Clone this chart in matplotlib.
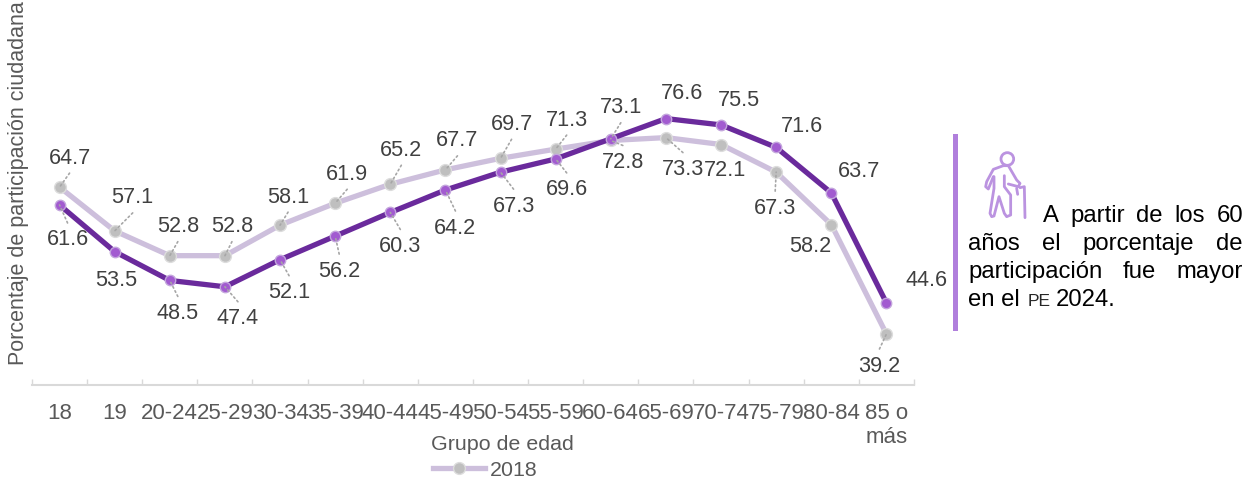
import matplotlib
matplotlib.use('Agg')
import matplotlib.pyplot as plt
from matplotlib.lines import Line2D
from matplotlib.patches import Circle, Rectangle

plt.rcParams['font.family'] = ['Liberation Sans', 'DejaVu Sans']

categories = ['18', '19', '20-24', '25-29', '30-34', '35-39', '40-44', '45-49',
              '50-54', '55-59', '60-64', '65-69', '70-74', '75-79', '80-84', '85 o\nmás']
values_2018 = [64.7, 57.1, 52.8, 52.8, 58.1, 61.9, 65.2, 67.7, 69.7, 71.3, 72.8, 73.3, 72.1, 67.3, 58.2, 39.2]
values_2024 = [61.6, 53.5, 48.5, 47.4, 52.1, 56.2, 60.3, 64.2, 67.3, 69.6, 73.1, 76.6, 75.5, 71.6, 63.7, 44.6]

off_2018 = [(10, 30), (18, 34), (8, 30), (7, 30), (8, 29), (12, 30), (11, 35), (12, 30),
            (11, 35), (11, 30), (12, -21), (17, -31), (4, -25), (-1, -35), (-21, -21), (-7, -31)]
off_2024 = [(8, -34), (2, -28), (8, -32), (13, -31), (9, -32), (4, -34), (10, -33), (10, -37),
            (13, -33), (11, -30), (10, 32), (16, 26), (18, 25), (26, 22), (28, 22), (40, 23)]
lead_2018 = [1, 1, 1, 1, 1, 1, 1, 1, 1, 1, 1, 1, 0, 1, 0, 1]
lead_2024 = [1, 0, 1, 1, 1, 1, 1, 1, 1, 1, 1, 0, 0, 0, 0, 0]

W, H = 1254, 478
PX_PER_UNIT = 5.76
fig = plt.figure(figsize=(W / 100, H / 100), dpi=100)
ax = fig.add_axes([32 / W, 1 - 385 / H, (914 - 32) / W, (385 - 30) / H])
ax.set_xlim(-0.5, 15.5)
ymin = 30 + 2 / PX_PER_UNIT
ax.set_ylim(ymin, ymin + 355 / PX_PER_UNIT)
for s in ['top', 'right', 'left']:
    ax.spines[s].set_visible(False)
ax.spines['bottom'].set_color('#d9d9d9')
ax.spines['bottom'].set_linewidth(1.5)
ax.set_yticks([])
ax.set_xticks([i - 0.5 for i in range(17)])
ax.set_xticklabels([])
ax.tick_params(axis='x', direction='in', length=4, width=1, color='#d9d9d9')
x = list(range(16))
for i, c in enumerate(categories):
    ax.annotate(c, xy=(i, 0), xycoords=('data', 'axes fraction'), xytext=(0, -18), textcoords='offset pixels',
                ha='center', va='top', fontsize=16, color='#595959', linespacing=1.2)

LIGHT, DARK = '#cdbfdc', '#6a2a9c'
ax.plot(x, values_2018, color=LIGHT, lw=3.8, marker='o', ms=8.5, mfc='#bfbfbf',
        mec='#dcdcdc', mew=1, zorder=2, clip_on=False, solid_capstyle='round')
ax.plot(x, values_2024, color=DARK, lw=3.8, marker='o', ms=7.5, mfc='#a25bd0',
        mec='#c3a6dc', mew=1, zorder=3, clip_on=False, solid_capstyle='round')

for vals, offs, leads in [(values_2018, off_2018, lead_2018), (values_2024, off_2024, lead_2024)]:
    for i, (v, o, l) in enumerate(zip(vals, offs, leads)):
        ax.annotate(f'{v:.1f}', xy=(i, v), xytext=(o[0], o[1] - 1), textcoords='offset pixels', ha='center',
                    va='center', fontsize=15.6, color='#404040', zorder=5)
        if l:
            end = (o[0], o[1] - 16 if o[1] > 0 else o[1] + 16)
            ax.annotate('', xy=(i, v), xytext=end, textcoords='offset pixels', zorder=4,
                        arrowprops=dict(arrowstyle='-', linestyle=(0, (1, 1.8)), color='#a6a6a6',
                                        lw=1.2, shrinkA=0, shrinkB=0))

fig.text(502 / W, 1 - 445 / H, 'Grupo de edad', ha='center', va='center', fontsize=15.4, color='#595959')
fig.text(19 / W, 1 - 183 / H, 'Porcentaje de participación ciudadana', rotation=90, ha='center',
         va='center', fontsize=15.5, color='#595959')

handle = Line2D([], [], color=LIGHT, lw=3.8, marker='o', ms=8.5, mfc='#bfbfbf', mec='#dcdcdc', mew=1)
fig.legend([handle], ['2018'], loc='center', bbox_to_anchor=(485 / W, 1 - 470 / H), frameon=False,
           fontsize=15.4, labelcolor='#595959', handlelength=2.46, handletextpad=0.2,
           borderpad=0, borderaxespad=0)

# overlay in pixel coordinates for the callout
ov = fig.add_axes([0, 0, 1, 1], zorder=10)
ov.set_xlim(0, W)
ov.set_ylim(H, 0)
ov.axis('off')
ov.patch.set_alpha(0)
ov.add_patch(Rectangle((953, 134), 5, 197, color='#b07fdc', lw=0))

ICON = '#bb93e0'
zx = lambda p: (975 + p[0] / 3, 145 + p[1] / 3)
icon_paths = [
    [(85, 62), (55, 73), (35, 110), (32, 125), (40, 132), (55, 95)],
    [(57, 95), (57, 130), (45, 205), (50, 215), (57, 213), (72, 155), (88, 205), (95, 215), (107, 210),
     (107, 150), (88, 125), (88, 92)],
    [(85, 62), (100, 62), (125, 105), (135, 115), (130, 125), (100, 117)],
    [(135, 128), (148, 125), (150, 218)],
    [(125, 130), (128, 148)],
]
for path in icon_paths:
    pts = [zx(p) for p in path]
    ov.plot([p[0] for p in pts], [p[1] for p in pts], color=ICON, lw=2, solid_capstyle='round',
            solid_joinstyle='round')
ov.add_patch(Circle(zx((97, 42)), 19 / 3, fill=False, ec=ICON, lw=2))

# justified paragraph, word by word
lines = [(['A', 'partir', 'de', 'los', '60'], 1043, 1243, 222),
         (['años', 'el', 'porcentaje', 'de'], 968, 1243, 250),
         (['participación', 'fue', 'mayor'], 968, 1243, 278)]
FS = 17.2
renderer = fig.canvas.get_renderer()
for words, x0, x1, y in lines:
    ts = [ov.text(0, y, w, fontsize=FS, color='black', va='baseline') for w in words]
    widths = [t.get_window_extent(renderer).width for t in ts]
    gap = (x1 - x0 - sum(widths)) / (len(words) - 1)
    cur = x0
    for t, w_ in zip(ts, widths):
        t.set_x(cur)
        cur += w_ + gap
ov.text(968, 306, 'en el', fontsize=FS, color='black', va='baseline')
ov.text(1028, 306, 'PE', fontsize=12.5, color='#262626', va='baseline')
ov.text(1056, 306, '2024.', fontsize=FS, color='black', va='baseline')

fig.savefig('out.png', dpi=100, facecolor='white')
